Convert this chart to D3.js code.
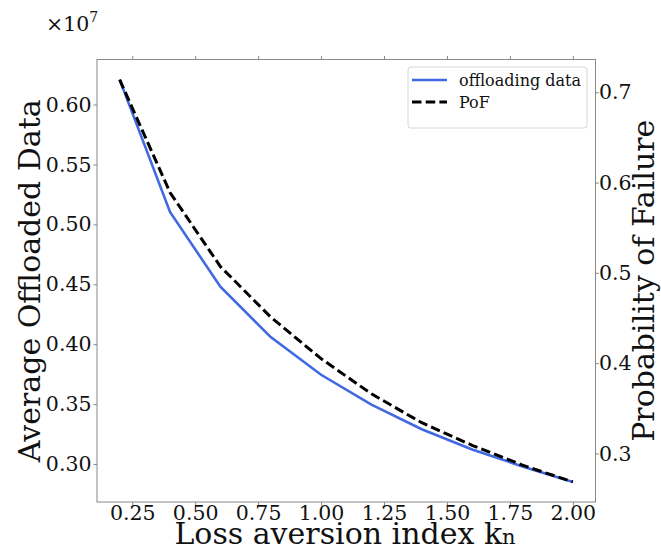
<!DOCTYPE html>
<html>
<head>
<meta charset="utf-8">
<script src="https://cdn.jsdelivr.net/npm/d3@7"></script>
<style>
  body { margin: 0; background: #fff; }
  svg { display: block; }
</style>
</head>
<body>
<svg></svg>
<script>
// loss aversion index vs offloaded data (x1e7) and probability of failure
const kValues = [0.2, 0.4, 0.6, 0.8, 1.0, 1.2, 1.4, 1.6, 1.8, 2.0];
const offloadData = [0.6208, 0.5104, 0.448, 0.4059, 0.3745, 0.3495, 0.329, 0.3121, 0.298, 0.2851];
const pofData = [0.714, 0.589, 0.507, 0.451, 0.405, 0.366, 0.334, 0.309, 0.287, 0.2685];
const xTicks = [0.25, 0.5, 0.75, 1.0, 1.25, 1.5, 1.75, 2.0];
const leftTicks = [0.30, 0.35, 0.40, 0.45, 0.50, 0.55, 0.60];
const rightTicks = [0.3, 0.4, 0.5, 0.6, 0.7];
const seriesNames = ['offloading data', 'PoF'];

const WIDTH = 661;
const HEIGHT = 551;
const LEFT = 97;
const RIGHT = 595.5;
const TOP = 59.5;
const BOTTOM = 502;
const FONT = '"DejaVu Serif", serif';
const SPINE = '#888';
const BLUE = '#4169e1';
const TICK_FONT = '20.5px';
const LABEL_FONT = '30px';

const svg = d3.select('svg').
attr('width', WIDTH).
attr('height', HEIGHT).
attr('font-family', FONT);

// matplotlib style 5% margins
function padded(values) {
  const [lo, hi] = d3.extent(values);
  const m = (hi - lo) * 0.05;
  return [lo - m, hi + m];
}

const x = d3.scaleLinear().domain(padded(kValues)).range([LEFT, RIGHT]);
const yLeft = d3.scaleLinear().domain(padded(offloadData)).range([BOTTOM, TOP]);
const yRight = d3.scaleLinear().domain(padded(pofData)).range([BOTTOM, TOP]);

// axes
function styleAxis(g) {
  g.select('.domain').remove();
  g.selectAll('.tick line').attr('stroke', SPINE);
  g.selectAll('.tick text').attr('font-family', FONT).attr('font-size', TICK_FONT).attr('fill', '#111');
}

svg.append('g').
attr('transform', `translate(0, ${BOTTOM})`).
call(d3.axisBottom(x).tickValues(xTicks).tickSize(3.5).tickPadding(0).tickFormat(d3.format('.2f'))).
call(styleAxis);

svg.append('g').
attr('transform', `translate(0, ${TOP})`).
call(d3.axisTop(x).tickValues(xTicks).tickSize(3.5).tickFormat('')).
call(styleAxis);

svg.append('g').
attr('transform', `translate(${LEFT}, 0)`).
call(d3.axisLeft(yLeft).tickValues(leftTicks).tickSize(3.5).tickPadding(2).tickFormat(d3.format('.2f'))).
call(styleAxis);

svg.append('g').
attr('transform', `translate(${RIGHT}, 0)`).
call(d3.axisRight(yRight).tickValues(rightTicks).tickSize(3.5).tickPadding(0).tickFormat(d3.format('.1f'))).
call(styleAxis);

// frame
svg.append('rect').
attr('x', LEFT).
attr('y', TOP).
attr('width', RIGHT - LEFT).
attr('height', BOTTOM - TOP).
attr('fill', 'none').
attr('stroke', SPINE).
attr('stroke-width', 1);

// lines
const lineLeft = d3.line().x((d, i) => x(kValues[i])).y(d => yLeft(d));
const lineRight = d3.line().x((d, i) => x(kValues[i])).y(d => yRight(d));

svg.append('path').
datum(offloadData).
attr('d', lineLeft).
attr('fill', 'none').
attr('stroke', BLUE).
attr('stroke-width', 2.6);

svg.append('path').
datum(pofData).
attr('d', lineRight).
attr('fill', 'none').
attr('stroke', '#000').
attr('stroke-width', 3).
attr('stroke-dasharray', '9.5,4.2');

// labels
svg.append('text').
attr('x', 345).
attr('y', 544).
attr('text-anchor', 'middle').
attr('font-size', LABEL_FONT).
attr('fill', '#111').
text('Loss aversion index k').
append('tspan').
attr('font-size', '21px').
text('n');

svg.append('text').
attr('transform', `translate(40, ${(TOP + BOTTOM) / 2}) rotate(-90)`).
attr('text-anchor', 'middle').
attr('font-size', LABEL_FONT).
attr('fill', '#111').
text('Average Offloaded Data');

svg.append('text').
attr('transform', `translate(654, ${(TOP + BOTTOM) / 2}) rotate(-90)`).
attr('text-anchor', 'middle').
attr('font-size', LABEL_FONT).
attr('fill', '#111').
text('Probability of Failure');

const offset = svg.append('text').
attr('x', 46).
attr('y', 31).
attr('font-size', '20.5px').
attr('fill', '#111');
offset.append('tspan').text('×10');
offset.append('tspan').attr('font-size', '14px').attr('dy', -9).text('7');

// legend
const legend = svg.append('g').attr('transform', 'translate(408, 67)');

legend.append('rect').
attr('width', 179).
attr('height', 61).
attr('rx', 3).
attr('fill', '#fff').
attr('fill-opacity', 0.8).
attr('stroke', '#d6d6d6').
attr('stroke-width', 1);

const legendRows = legend.selectAll('g.row').
data(seriesNames).
enter().
append('g').
attr('class', 'row').
attr('transform', (d, i) => `translate(0, ${13 + i * 22})`);

legendRows.append('line').
attr('x1', 4).
attr('x2', 39).
attr('stroke', (d, i) => i === 0 ? BLUE : '#000').
attr('stroke-width', (d, i) => i === 0 ? 2.6 : 3).
attr('stroke-dasharray', (d, i) => i === 0 ? null : '9.5,4.2');

legendRows.append('text').
attr('x', 51).
attr('y', 5.5).
attr('font-size', '16px').
attr('fill', '#111').
text(d => d);
</script>
</body>
</html>
